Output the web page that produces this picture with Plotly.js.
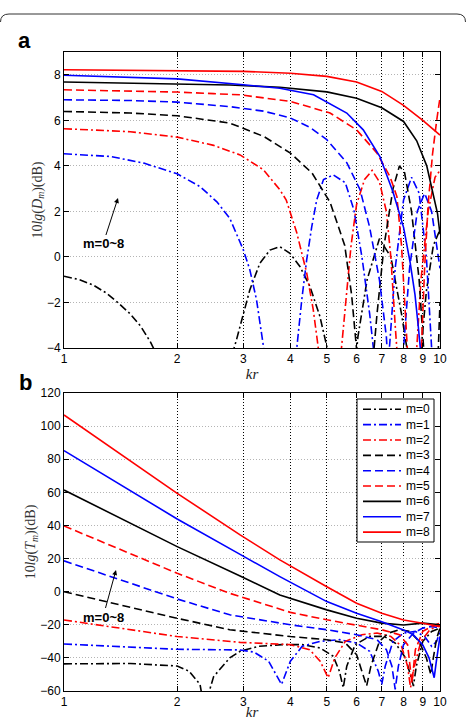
<!DOCTYPE html>
<html><head><meta charset="utf-8">
<script src="https://cdn.plot.ly/plotly-3.0.1.min.js"></script>
<style>html,body{margin:0;padding:0;background:#fff;}#chart{width:466px;height:720px;}</style>
</head><body><div id="chart"></div>
<script>
// ---------- data: 10lg(D_m) (panel a) ----------
const seriesNames = ['m=0','m=1','m=2','m=3','m=4','m=5','m=6','m=7','m=8'];
const xTickVals = [1,2,3,4,5,6,7,8,9,10];
const xTickText = ['1','2','3','4','5','6','7','8','9','10'];
const yTicksA = [-4,-2,0,2,4,6,8];
const yTicksB = [-60,-40,-20,0,20,40,60,80,100,120];

const D0_kr = [1,1.1,1.2,1.3,1.4,1.5,1.6,1.7,1.8,2.0,2.35,2.7,2.88,3.0,3.12,3.32,3.53,3.75,3.99,4.24,4.51,4.79,5.0,5.2,5.53,5.85,6.05,6.4,6.9,7.4,7.9,8.2,8.5,8.8,9.2,9.6,10];
const D0_val = [-0.85,-1.0,-1.25,-1.6,-2.05,-2.5,-3.05,-3.75,-4.6,-7,-20,-5.2,-3.6,-2.45,-1.45,-0.27,0.3,0.45,0.16,-0.42,-1.3,-2.6,-3.93,-6,-20,-6,-3.5,-1.0,0.8,0,-2.5,-4.2,-20,-5,-1.5,0.5,1.2];
const D1_kr = [1,1.33,1.63,2.0,2.3,2.55,2.76,3.0,3.12,3.25,3.39,3.55,3.79,4.0,4.16,4.29,4.42,4.56,4.7,4.9,5.2,5.6,5.9,6.2,6.5,6.7,7.0,7.3,7.6,8.0,8.4,8.8,9.2,9.5,9.8,10];
const D1_val = [4.53,4.41,4.12,3.65,3.09,2.42,1.7,0.3,-0.56,-1.87,-3.9,-7,-20,-7,-4,-1.87,-0.13,1.33,2.5,3.4,3.6,3.26,2.07,0,-2.5,-4.5,-20,-4.5,-0.5,2.5,3.5,2.8,0,-4,-20,-5];
const D2_kr = [1,1.5,2,2.5,2.94,3.39,3.75,3.9,4.16,4.42,4.6,4.74,4.85,5.04,5.25,5.47,5.6,5.8,6.0,6.3,6.6,6.9,7.2,7.4,7.6,7.75,8.15,8.6,8.9,9.3,9.7,10];
const D2_val = [5.63,5.5,5.26,4.9,4.48,3.83,2.95,2.5,1.06,-0.7,-2.3,-3.93,-6,-20,-6,-4,-2.2,0.5,2.3,3.4,3.8,3.3,2.0,0,-3,-5,-20,-5,-1,2,3.5,3.8];
const D3_kr = [1,1.5,2,2.5,2.76,3.4,4,4.57,4.9,5.1,5.3,5.58,5.82,6.0,6.15,6.38,6.6,6.8,7.1,7.5,7.8,8.05,8.4,8.8,9.1,9.3,9.6,9.85,10];
const D3_val = [6.39,6.32,6.2,6.0,5.88,5.29,4.56,3.68,2.9,2.4,1.6,0.5,-1.66,-3.71,-6,-20,-5,-2.5,0.5,3.0,4.0,3.7,2.0,-1.0,-4,-7,-20,-5,-2];
const D4_kr = [1,1.5,2,2.76,3.4,4,4.5,5,5.65,6.13,6.5,6.9,7.2,7.35,7.6,7.85,8.0,8.3,8.7,9.1,9.5,9.8,10];
const D4_val = [6.9,6.87,6.8,6.6,6.4,6.1,5.7,5.15,4.14,2.95,1.3,-1.0,-3.5,-6,-20,-6,-4,-0.5,2.0,2.8,2.0,0.5,-0.5];
const D5_kr = [1,1.5,2,2.5,2.94,4,5.1,6,6.8,7.36,7.68,7.9,8.1,8.25,8.45,8.75,8.95,9.1,9.3,9.55,9.8,10];
const D5_val = [7.34,7.3,7.24,7.17,7.12,6.83,6.32,5.58,4.56,3.53,2.65,0.5,-2.5,-5,-20,-6,-3.5,-0.5,2.3,4.5,6.0,7.0];
const D6_kr = [1,1.5,2,2.76,3.75,5,6,7,8,8.67,9.22,9.5,9.7,9.85,10];
const D6_val = [7.68,7.64,7.6,7.55,7.45,7.25,6.97,6.55,5.95,5.1,4.0,3.0,2.4,1.9,1.0];
const D7_kr = [1,1.5,2,3,3.75,4.61,5.65,6.25,6.92,7.5,8,8.32,8.58,8.76,8.89,9.1,9.64,9.85,10];
const D7_val = [7.98,7.9,7.82,7.56,7.41,7.12,6.32,5.58,4.41,2.85,1.3,-0.2,-1.66,-3.1,-4.0,-6,-20,-6,-4.5];
const D8_kr = [1,2,3,4,5,6,7,8,9,10];
const D8_val = [8.22,8.19,8.15,8.07,7.93,7.68,7.27,6.66,6.0,5.35];

// ---------- data: 10lg(T_m) (panel b) ----------
const T0_kr = [1,1.5,2,2.15,2.3,2.38,2.45,2.5,2.76,2.94,3.3,3.8,4.3,4.8,5.2,5.4,5.53,5.65,5.95,6.5,7.1,7.6,8.1,8.35,8.5,8.65,9.0,9.5,10];
const T0_val = [-43.6,-43.4,-44.9,-48,-56,-75,-58,-51.3,-40,-36,-33,-32,-32,-34,-39,-48,-58,-45,-32,-27,-27,-31,-40,-50,-57,-45,-30,-24,-22];
const T1_kr = [1,2,2.94,3.2,3.5,3.79,4.0,4.3,4.8,5.4,6.0,6.5,6.85,7.0,7.15,7.5,8.0,8.6,9.1,9.5,9.8,10];
const T1_val = [-31.6,-34.8,-35.2,-36.5,-42,-56,-42,-33,-30,-29,-31,-36,-48,-56,-45,-30,-25,-24,-27,-33,-30,-24];
const T2_kr = [1,2,2.94,3.5,4,4.5,4.8,5.04,5.25,5.6,6.2,6.8,7.4,7.9,8.2,8.35,8.55,8.9,9.4,10];
const T2_val = [-17.1,-27.1,-30.6,-31.5,-32,-35,-42,-52,-40,-30,-26,-25,-27,-33,-45,-58,-45,-30,-23,-20];
const T3_kr = [1,2,2.76,4,5,5.6,6.0,6.25,6.38,6.55,6.9,7.3,7.8,8.3,8.8,9.2,9.45,9.6,9.8,10];
const T3_val = [0,-16.1,-23,-27.1,-29,-31,-38,-50,-57,-45,-30,-25,-23,-24,-30,-40,-50,-40,-28,-22];
const T4_kr = [1,2,2.76,4,5,6,6.8,7.2,7.45,7.6,7.75,8.0,8.5,9,9.5,10];
const T4_val = [18.6,-4.4,-14,-20,-23,-26,-29,-35,-45,-59,-45,-32,-25,-22,-21,-22];
const T5_kr = [1,2,2.76,4,5,6,7,7.8,8.2,8.42,8.6,9,9.5,10];
const T5_val = [39.7,11.1,-1,-12.5,-17,-20,-23,-26,-32,-55,-35,-24,-21,-19];
const T6_kr = [1,2,2.94,3.75,5,6,7,8,9,10];
const T6_val = [61.4,27.2,9.5,-2,-11,-16,-19,-20.1,-19,-20];
const T7_kr = [1,2,2.94,3.75,5,6,7,8,8.5,9,9.35,9.55,9.65,9.78,9.9,10];
const T7_val = [85.2,43.9,22.5,9.1,-6,-13,-18.1,-23.1,-26.1,-32.2,-40,-47,-52,-42,-33,-27];
const T8_kr = [1,2,2.94,3.75,5,6,7,8,9,10];
const T8_val = [106.7,59.4,34.3,19.2,3.0,-7.0,-13.0,-17.1,-19.1,-21.1];

// ---------- styles ----------
const lineColors = ['#000000','#0000ff','#ff0000','#000000','#0000ff','#ff0000','#000000','#0000ff','#ff0000'];
const DASHDOT = '8px,3px,2px,3px';
const DASH = '8px,4px';
const lineDashes = [DASHDOT,DASHDOT,DASHDOT,DASH,DASH,DASH,'solid','solid','solid'];

const Dkr = [D0_kr,D1_kr,D2_kr,D3_kr,D4_kr,D5_kr,D6_kr,D7_kr,D8_kr];
const Dval = [D0_val,D1_val,D2_val,D3_val,D4_val,D5_val,D6_val,D7_val,D8_val];
const Tkr = [T0_kr,T1_kr,T2_kr,T3_kr,T4_kr,T5_kr,T6_kr,T7_kr,T8_kr];
const Tval = [T0_val,T1_val,T2_val,T3_val,T4_val,T5_val,T6_val,T7_val,T8_val];

const traces = [];
for (let i = 0; i < 9; i++) {
  traces.push({x: Dkr[i], y: Dval[i], xaxis:'x', yaxis:'y', mode:'lines', name: seriesNames[i],
    showlegend:false, hoverinfo:'skip',
    line:{color: lineColors[i], width:1.6, dash: lineDashes[i]}});
}
for (let i = 0; i < 9; i++) {
  traces.push({x: Tkr[i], y: Tval[i], xaxis:'x2', yaxis:'y2', mode:'lines', name: seriesNames[i],
    showlegend:false, hoverinfo:'skip',
    line:{color: lineColors[i], width:1.6, dash: lineDashes[i]}});
}

// pixel -> paper helpers (plot area: x 64..440, y 52..691)
const PX = p => (p - 64) / 376;
const PY = p => (691 - p) / 639;

const tickFont = {family:'Liberation Sans, Arial, sans-serif', size:12, color:'#000'};
const xBase = {
  type:'log', range:[0,1], tickvals:xTickVals, ticktext:xTickText,
  showgrid:true, gridcolor:'#000', griddash:'1px,2px', gridwidth:1,
  showline:true, linecolor:'#000', linewidth:1, mirror:'ticks',
  ticks:'inside', ticklen:5, tickcolor:'#000', tickfont:tickFont, zeroline:false,
  title:{text:'<i>kr</i>', font:{family:'Liberation Serif, serif', size:15, color:'#222'}, standoff:0}
};
const yBase = {
  showgrid:true, gridcolor:'#b4b4b4', griddash:'1px,2px', gridwidth:1,
  showline:true, linecolor:'#000', linewidth:1, mirror:'ticks',
  ticks:'inside', ticklen:5, tickcolor:'#000', tickfont:tickFont, zeroline:false
};

// manual legend (Matlab-style compact box)
const legendShapes = [
  {type:'rect', xref:'paper', yref:'paper', x0:PX(357), x1:PX(434), y0:PY(542), y1:PY(399),
    fillcolor:'#fff', line:{color:'#000', width:1}, layer:'above'}
];
const legendAnn = [];
for (let i = 0; i < 9; i++) {
  const yc = 409.3 + i * 15.35;
  legendShapes.push({type:'line', xref:'paper', yref:'paper', x0:PX(363), x1:PX(401), y0:PY(yc), y1:PY(yc),
    line:{color:lineColors[i], width:1.6, dash:lineDashes[i]}, layer:'above'});
  legendAnn.push({xref:'paper', yref:'paper', x:PX(404), y:PY(yc), xanchor:'left', yanchor:'middle',
    text:seriesNames[i], showarrow:false,
    font:{family:'Liberation Sans, Arial, sans-serif', size:12, color:'#000'}});
}

const layout = {
  width:466, height:720, paper_bgcolor:'#fff', plot_bgcolor:'#fff',
  margin:{l:64, r:26, t:52, b:29},
  showlegend:false,
  xaxis: Object.assign({}, xBase, {domain:[0,1], anchor:'y'}),
  xaxis2: Object.assign({}, xBase, {domain:[0,1], anchor:'y2'}),
  yaxis: Object.assign({}, yBase, {domain:[PY(348),1], anchor:'x', range:[-4,9], tickvals:yTicksA,
    title:{text:'10<i>lg</i>(<i>D<sub>m</sub></i>)(dB)', font:{family:'Liberation Serif, serif', size:14, color:'#333'}, standoff:1}}),
  yaxis2: Object.assign({}, yBase, {domain:[0,PY(393)], anchor:'x2', range:[-60,120], tickvals:yTicksB,
    title:{text:'10<i>lg</i>(<i>T<sub>m</sub></i>)(dB)', font:{family:'Liberation Serif, serif', size:14, color:'#333'}, standoff:1}}),
  annotations:[
    {xref:'paper', yref:'paper', x:PX(24), y:PY(41), xanchor:'center', yanchor:'middle', text:'<b>a</b>', showarrow:false,
      font:{family:'Liberation Sans, Arial, sans-serif', size:22, color:'#000'}},
    {xref:'paper', yref:'paper', x:PX(25), y:PY(383), xanchor:'center', yanchor:'middle', text:'<b>b</b>', showarrow:false,
      font:{family:'Liberation Sans, Arial, sans-serif', size:22, color:'#000'}},
    {xref:'paper', yref:'paper', x:PX(118), y:PY(198), ax:-15, ay:46, text:'<b>m=0~8</b>', showarrow:true,
      arrowhead:2, arrowsize:1, arrowwidth:1, arrowcolor:'#000',
      font:{family:'Liberation Sans, Arial, sans-serif', size:13, color:'#000'}},
    {xref:'paper', yref:'paper', x:PX(116), y:PY(570), ax:-13, ay:47, text:'<b>m=0~8</b>', showarrow:true,
      arrowhead:2, arrowsize:1, arrowwidth:1, arrowcolor:'#000',
      font:{family:'Liberation Sans, Arial, sans-serif', size:13, color:'#000'}}
  ].concat(legendAnn),
  shapes:[
    {type:'path', xref:'paper', yref:'paper',
      path:'M '+PX(0.5)+','+PY(22)+' Q '+PX(0.5)+','+PY(14)+' '+PX(9)+','+PY(14)+' L '+PX(457)+','+PY(14)+' Q '+PX(465.5)+','+PY(14)+' '+PX(465.5)+','+PY(22),
      line:{color:'#333', width:1}}
  ].concat(legendShapes)
};

Plotly.newPlot('chart', traces, layout, {staticPlot:true, displayModeBar:false});
</script>
</body></html>
